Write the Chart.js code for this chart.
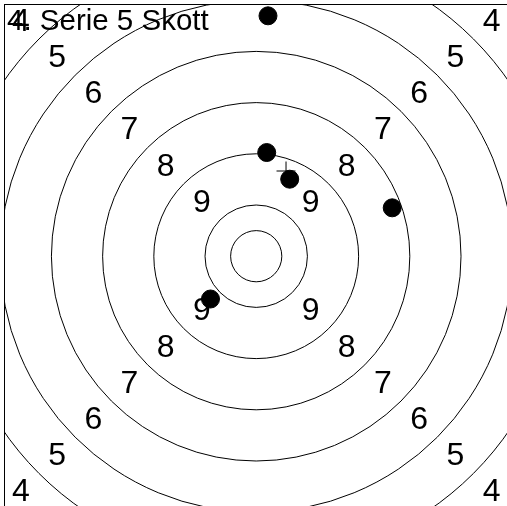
<!DOCTYPE html>
<html>
<head>
<meta charset="utf-8">
<script src="https://cdn.jsdelivr.net/npm/chart.js@4"></script>
<style>
  html, body { margin: 0; padding: 0; background: #fff; }
  #wrap { width: 507px; height: 506px; }
</style>
</head>
<body>
<div id="wrap"><canvas id="target"></canvas></div>
<script>
// target data, in ring units (1 unit = one ring width, 0 = centre)
const TITLE = '4. Serie 5 Skott';
const ringRadii = [0.5, 1, 2, 3, 4, 5, 6, 7];
const ringValues = [9, 8, 7, 6, 5, 4];
const labelRadii = [1.5, 2.5, 3.5, 4.5, 5.5, 6.5];
const shotX = [0.23, 0.205, 0.654, 2.656, -0.893];
const shotY = [4.695, 2.025, 1.504, 0.945, -0.836];
const meanX = [0.582];
const meanY = [1.664];

const LABEL_FONT = '32px "Liberation Sans", Arial, sans-serif';
const TITLE_FONT = '29.5px "Liberation Sans", Arial, sans-serif';

// rings, ring numbers and title, placed through the scales
const targetPlugin = {
  id: 'target',
  beforeDatasetsDraw(chart) {
    const { ctx, chartArea: a, scales: { x, y } } = chart;
    const cx = x.getPixelForValue(0);
    const cy = y.getPixelForValue(0);
    const unit = x.getPixelForValue(1) - cx;
    ctx.save();
    ctx.beginPath();
    ctx.rect(a.left, a.top, a.right - a.left, a.bottom - a.top);
    ctx.clip();
    ctx.strokeStyle = '#000';
    ctx.lineWidth = 1;
    ringRadii.forEach(r => {
      ctx.beginPath();
      ctx.arc(cx, cy, r * unit, 0, Math.PI * 2);
      ctx.stroke();
    });
    ctx.fillStyle = '#000';
    ctx.font = LABEL_FONT;
    ctx.textAlign = 'center';
    ctx.textBaseline = 'middle';
    ringValues.forEach((v, i) => {
      const d = labelRadii[i] / Math.SQRT2;
      [[-1, 1], [1, 1], [-1, -1], [1, -1]].forEach(([sx, sy]) => {
        ctx.fillText(String(v), x.getPixelForValue(sx * d), y.getPixelForValue(sy * d) + 1);
      });
    });
    ctx.font = TITLE_FONT;
    ctx.textAlign = 'left';
    ctx.textBaseline = 'alphabetic';
    ctx.fillText(TITLE, a.left + 3, a.top + 26);
    ctx.restore();
  }
};

const axisOpts = (pos, min, max) => ({
  type: 'linear',
  position: pos,
  min: min,
  max: max,
  ticks: { display: false },
  grid: { display: false, drawTicks: false },
  border: { display: true, color: '#000', width: 1 }
});

new Chart(document.getElementById('target'), {
  type: 'scatter',
  data: {
    datasets: [
      {
        label: 'Skott',
        data: shotX.map((v, i) => ({ x: v, y: shotY[i] })),
        pointRadius: 9,
        pointBorderWidth: 1,
        backgroundColor: '#000',
        borderColor: '#000',
        order: 0
      },
      {
        label: 'Medel',
        data: meanX.map((v, i) => ({ x: v, y: meanY[i] })),
        pointStyle: 'cross',
        pointRadius: 9.5,
        pointBorderWidth: 1,
        borderColor: '#000',
        order: 1
      }
    ]
  },
  options: {
    responsive: true,
    maintainAspectRatio: false,
    animation: false,
    events: [],
    layout: { autoPadding: false, padding: { left: 4, top: 4, right: 0, bottom: 0 } },
    plugins: { legend: { display: false }, tooltip: { enabled: false } },
    scales: {
      x: axisOpts('top', -4.926, 4.898),
      y: axisOpts('left', -4.879, 4.926)
    }
  },
  plugins: [targetPlugin]
});
</script>
</body>
</html>
